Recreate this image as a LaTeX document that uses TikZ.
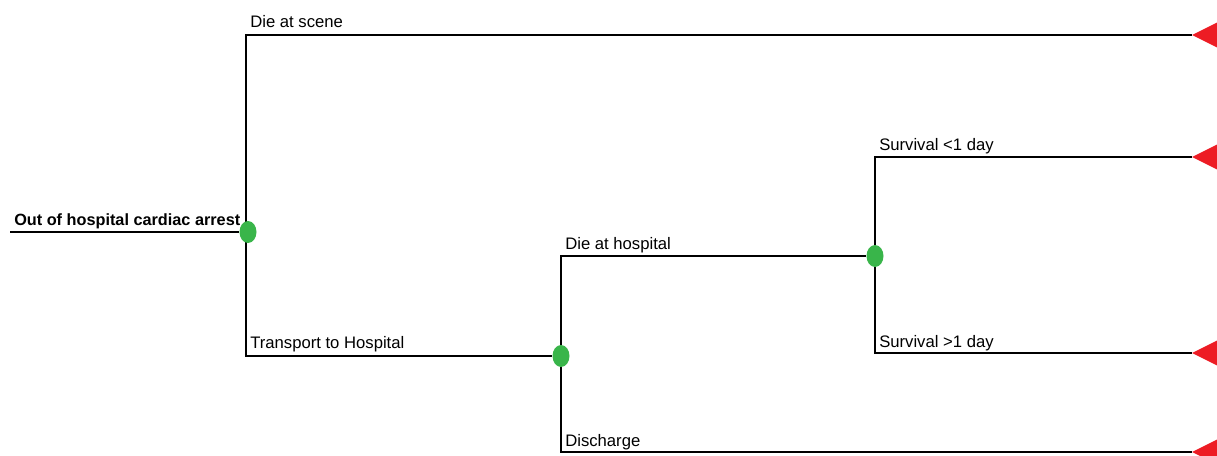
\documentclass[tikz,border=0pt]{standalone}
\usepackage{fontspec}
\setmainfont{Liberation Sans}
\usetikzlibrary{shapes.geometric,backgrounds}
\definecolor{chgreen}{RGB}{57,181,74}
\definecolor{termred}{RGB}{237,28,36}
\newlength{\unitpx}
\setlength{\unitpx}{0.75pt}
\tikzset{
  chance/.style={ellipse,fill=chgreen,minimum width=17\unitpx,minimum height=22\unitpx,inner sep=0pt},
  branch/.style={line width=1.5pt,black},
  lbl/.style={anchor=base west,inner sep=0pt,font=\fontsize{12.5}{14}\selectfont},
  rootlbl/.style={anchor=base west,inner sep=0pt,font=\fontsize{12.2}{14}\selectfont\bfseries},
  term/.style={fill=termred}
}
\begin{document}
\begin{tikzpicture}[x=0.75pt,y=-0.75pt]
\useasboundingbox (0,0) rectangle (1217,456);
% nodes
\coordinate (start) at (10,232);
\node[chance] (c1) at (248,232) {};
\node[chance] (c2) at (561,356) {};
\node[chance] (c3) at (875,256) {};
\coordinate (t1) at (1192,35);
\coordinate (t2) at (1192,157);
\coordinate (t3) at (1192,353);
\coordinate (t4) at (1192,452);
% connectors
\begin{scope}[on background layer]
\draw[branch] (start) -- (c1);
\draw[branch] ([xshift=-1.5pt]c1.center) |- (t1);
\draw[branch] ([xshift=-1.5pt]c1.center) |- (c2);
\draw[branch] (c2) |- (c3);
\draw[branch] (c2) |- (t4);
\draw[branch] (c3) |- (t2);
\draw[branch] (c3) |- (t3);
\end{scope}
% terminals
\foreach \t in {t1,t2,t3,t4}{
  \fill[term] (\t) -- ++(25,-12.5) -- ++(0,25) -- cycle;
}
% labels
\node[rootlbl] (l0) at (14,225) {Out of hospital cardiac arrest};
\node[lbl] (l1) at (250,28) {Die at scene};
\node[lbl] (l2) at (250,348) {Transport to Hospital};
\node[lbl] (l3) at (565,249) {Die at hospital};
\node[lbl] (l4) at (565,446) {Discharge};
\node[lbl] (l5) at (879,151) {Survival <1 day};
\node[lbl] (l6) at (879,347) {Survival >1 day};
\end{tikzpicture}
\end{document}
